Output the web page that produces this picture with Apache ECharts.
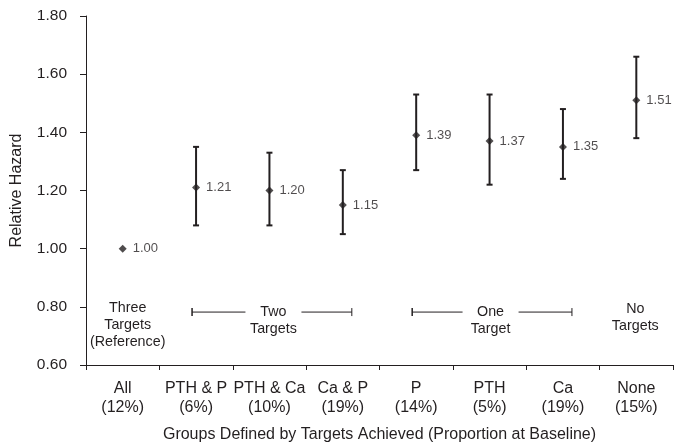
<!DOCTYPE html>
<html>
<head>
<meta charset="utf-8">
<script src="https://cdn.jsdelivr.net/npm/echarts@6/dist/echarts.min.js"></script>
<style>
html,body{margin:0;padding:0;background:#fff;}
#main{width:674px;height:448px;}
</style>
</head>
<body>
<div id="main"></div>
<script>
var categories = ['All\n(12%)', 'PTH & P\n(6%)', 'PTH & Ca\n(10%)', 'Ca & P\n(19%)', 'P\n(14%)', 'PTH\n(5%)', 'Ca\n(19%)', 'None\n(15%)'];
var hazard = [1.00, 1.21, 1.20, 1.15, 1.39, 1.37, 1.35, 1.51];
var lower = [null, 1.08, 1.08, 1.05, 1.27, 1.22, 1.24, 1.38];
var upper = [null, 1.35, 1.33, 1.27, 1.53, 1.53, 1.48, 1.66];
var yTicks = { min: 0.6, max: 1.8, interval: 0.2 };
var groupLabels = [
  { text: 'Three\nTargets\n(Reference)', from: 0, to: 0, y: 0.796, bracket: false, dx: 5 },
  { text: 'Two\nTargets', from: 1, to: 3, y: 0.782, bracket: true, dx: 4 },
  { text: 'One\nTarget', from: 4, to: 6, y: 0.782, bracket: true, dx: 1 },
  { text: 'No\nTargets', from: 7, to: 7, y: 0.793, bracket: false, dx: -1 }
];

var INK = '#231f20';
var FONT = '"Liberation Sans", Arial, sans-serif';

var errData = [];
for (var i = 0; i < categories.length; i++) {
  if (lower[i] != null) errData.push([i, lower[i], upper[i]]);
}

var chart = echarts.init(document.getElementById('main'), null, { renderer: 'canvas' });

var option = {
  animation: false,
  backgroundColor: '#fff',
  textStyle: { fontFamily: FONT, color: INK },
  grid: { left: 86, right: 1, top: 16, bottom: 83, containLabel: false },
  xAxis: {
    type: 'category',
    data: categories,
    boundaryGap: true,
    axisLine: { show: true, lineStyle: { color: INK, width: 1 } },
    axisTick: { show: true, length: 5, lineStyle: { color: INK } },
    axisLabel: { color: INK, fontSize: 16, lineHeight: 19, margin: 14, interval: 0, fontFamily: FONT },
    splitLine: { show: false },
    name: 'Groups Defined by Targets Achieved (Proportion at Baseline)',
    nameLocation: 'middle',
    nameGap: 62,
    nameTextStyle: { color: INK, fontSize: 16, fontFamily: FONT }
  },
  yAxis: {
    type: 'value',
    min: yTicks.min,
    max: yTicks.max,
    interval: yTicks.interval,
    axisLine: { show: true, lineStyle: { color: INK, width: 1 } },
    axisTick: { show: true, length: 6, lineStyle: { color: INK } },
    axisLabel: { color: INK, fontSize: 15.5, margin: 19, fontFamily: FONT, formatter: function (v) { return v.toFixed(2); } },
    splitLine: { show: false },
    name: 'Relative Hazard',
    nameLocation: 'middle',
    nameGap: 61,
    nameTextStyle: { color: INK, fontSize: 16, fontFamily: FONT }
  },
  series: [
    {
      type: 'custom',
      data: errData,
      z: 2,
      renderItem: function (params, api) {
        var x = api.value(0);
        var lo = api.coord([x, api.value(1)]);
        var hi = api.coord([x, api.value(2)]);
        var cw = 3;
        var st = { stroke: INK, lineWidth: 2 };
        return {
          type: 'group',
          children: [
            { type: 'line', shape: { x1: lo[0], y1: lo[1], x2: hi[0], y2: hi[1] }, style: st },
            { type: 'line', shape: { x1: hi[0] - cw, y1: hi[1], x2: hi[0] + cw, y2: hi[1] }, style: st },
            { type: 'line', shape: { x1: lo[0] - cw, y1: lo[1], x2: lo[0] + cw, y2: lo[1] }, style: st }
          ]
        };
      }
    },
    {
      type: 'scatter',
      data: hazard,
      z: 3,
      symbol: 'diamond',
      symbolSize: 8,
      itemStyle: { color: INK },
      label: {
        show: true,
        position: 'right',
        distance: 6,
        color: INK,
        fontSize: 13,
        fontFamily: FONT,
        formatter: function (p) { return p.value.toFixed(2); }
      }
    }
  ]
};

chart.setOption(option);

function buildAnnotations() {
  var els = [];
  groupLabels.forEach(function (g) {
    var xa = chart.convertToPixel({ xAxisIndex: 0 }, g.from);
    var xb = chart.convertToPixel({ xAxisIndex: 0 }, g.to);
    var cx = (xa + xb) / 2 + g.dx;
    var cy = chart.convertToPixel({ yAxisIndex: 0 }, g.y);
    els.push({
      type: 'text',
      x: cx,
      y: cy - 8.5,
      z: 10,
      style: {
        text: g.text,
        align: 'center',
        verticalAlign: 'top',
        lineHeight: 17,
        fontSize: 14.3,
        fontFamily: FONT,
        fill: INK
      }
    });
    if (g.bracket) {
      var left = xa - 4;
      var right = xb + 9;
      var gap = 28;
      var ls = { stroke: INK, lineWidth: 1 };
      els.push({ type: 'line', z: 10, shape: { x1: left, y1: cy, x2: cx - gap, y2: cy }, style: ls });
      els.push({ type: 'line', z: 10, shape: { x1: cx + gap, y1: cy, x2: right, y2: cy }, style: ls });
      els.push({ type: 'line', z: 10, shape: { x1: left, y1: cy - 4, x2: left, y2: cy + 4 }, style: { stroke: INK, lineWidth: 1.5 } });
      els.push({ type: 'line', z: 10, shape: { x1: right, y1: cy - 4, x2: right, y2: cy + 4 }, style: ls });
    }
  });
  chart.setOption({ graphic: els });
}
buildAnnotations();
</script>
</body>
</html>
